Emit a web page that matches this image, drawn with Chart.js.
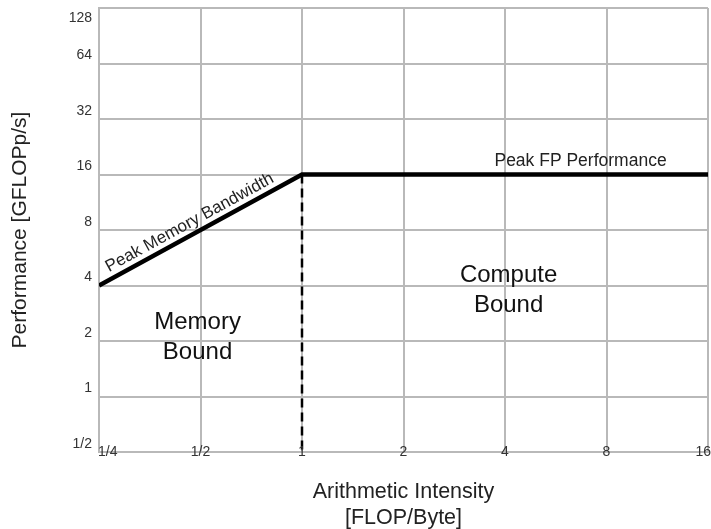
<!DOCTYPE html>
<html lang="en">
<head>
    <meta charset="UTF-8">
    <title>Roofline</title>
    <script src="https://cdn.jsdelivr.net/npm/chart.js"></script>
    <style>
body { margin: 0; background: #fff; }
#box { width: 711px; height: 529px; }
    </style>
</head>
<body>
    <div id="box"><canvas id="roof"></canvas></div>
    <script>
// axis ticks (log2)
const xTickValues = [0.25, 0.5, 1, 2, 4, 8, 16];
const xTickLabels = ['1/4', '1/2', '1', '2', '4', '8', '16'];
const yTickValues = [0.5, 1, 2, 4, 8, 16, 32, 64, 128];
const yTickLabels = ['1/2', '1', '2', '4', '8', '16', '32', '64', '128'];

// the roof: memory slope then flat compute ceiling
const roofX = [0.25, 1, 16];
const roofY = [4, 16, 16];
// ridge point drop line
const ridgeX = [1, 1];
const ridgeY = [16, 0.5];

// text notes, anchored in data space
const notes = [
    { text: ['Memory', 'Bound'], x: 0.49, y: 2.1, size: 24 },
    { text: ['Compute', 'Bound'], x: 4.1, y: 3.75, size: 24 },
];

const FONT = "'Liberation Sans', Arial, sans-serif";
const GRID = '#b9b9b9';

const pts = (xs, ys) => xs.map((x, i) => ({ x: x, y: ys[i] }));

const labelPlugin = {
    id: 'labels',
    afterDraw(chart) {
        const ctx = chart.ctx;
        const xs = chart.scales.x, ys = chart.scales.y;
        const area = chart.chartArea;
        ctx.save();
        ctx.fillStyle = '#333';
        ctx.font = '14px ' + FONT;

        // y tick labels, sitting a bit above their grid line
        ctx.textAlign = 'right';
        ctx.textBaseline = 'middle';
        yTickValues.forEach((v, i) => {
            let py = ys.getPixelForValue(v) - 8;
            py = Math.max(py, area.top + 10);
            ctx.fillText(yTickLabels[i], area.left - 7, py);
        });

        // x tick labels, drawn right over the axis line
        xTickValues.forEach((v, i) => {
            let px = xs.getPixelForValue(v);
            if (i === 0) { ctx.textAlign = 'left'; px -= 1; }
            else if (i === xTickValues.length - 1) { ctx.textAlign = 'right'; px += 3; }
            else ctx.textAlign = 'center';
            ctx.fillText(xTickLabels[i], px, area.bottom);
        });

        // region notes
        ctx.fillStyle = '#111';
        ctx.textAlign = 'center';
        notes.forEach(n => {
            ctx.font = n.size + 'px ' + FONT;
            const cx = xs.getPixelForValue(n.x);
            const cy = ys.getPixelForValue(n.y);
            const lh = n.size * 1.25;
            n.text.forEach((t, k) => {
                ctx.fillText(t, cx, cy + (k - (n.text.length - 1) / 2) * lh);
            });
        });

        // roof labels
        ctx.fillStyle = '#222';
        ctx.font = '17.5px ' + FONT;
        ctx.textBaseline = 'alphabetic';
        ctx.fillText('Peak FP Performance',
            xs.getPixelForValue(6.7), ys.getPixelForValue(roofY[2]) - 9);

        const x0 = xs.getPixelForValue(roofX[0]), y0 = ys.getPixelForValue(roofY[0]);
        const x1 = xs.getPixelForValue(roofX[1]), y1 = ys.getPixelForValue(roofY[1]);
        const ang = Math.atan2(y1 - y0, x1 - x0);
        ctx.translate((x0 + x1) / 2, (y0 + y1) / 2);
        ctx.rotate(ang);
        ctx.font = '17px ' + FONT;
        ctx.textBaseline = 'bottom';
        ctx.fillText('Peak Memory Bandwidth', -6, -3);
        ctx.restore();
    }
};

new Chart(document.getElementById('roof'), {
    type: 'scatter',
    data: {
        datasets: [
            {
                data: pts(roofX, roofY),
                showLine: true,
                borderColor: '#000',
                borderWidth: 4.5,
                pointRadius: 0,
                tension: 0,
            },
            {
                data: pts(ridgeX, ridgeY),
                showLine: true,
                borderColor: '#000',
                borderWidth: 2.5,
                borderDash: [9, 5],
                pointRadius: 0,
            }
        ]
    },
    options: {
        animation: false,
        responsive: true,
        maintainAspectRatio: false,
        layout: { padding: { left: 0, right: 3, top: 8, bottom: 0 } },
        plugins: { legend: { display: false }, tooltip: { enabled: false } },
        scales: {
            x: {
                type: 'logarithmic',
                min: 0.25,
                max: 16,
                afterBuildTicks: s => { s.ticks = xTickValues.map(v => ({ value: v })); },
                afterFit: s => { s.height = 77; },
                grid: { color: GRID, lineWidth: 2, drawTicks: false },
                border: { color: GRID, width: 2 },
                ticks: { display: false },
                title: {
                    display: true,
                    text: ['Arithmetic Intensity', '[FLOP/Byte]'],
                    color: '#222',
                    font: { family: FONT, size: 21.5, lineHeight: 1.22 },
                    padding: { top: 0, bottom: -2 },
                }
            },
            y: {
                type: 'logarithmic',
                min: 0.5,
                max: 128,
                afterBuildTicks: s => { s.ticks = yTickValues.map(v => ({ value: v })); },
                afterFit: s => { s.width = 99; },
                grid: { color: GRID, lineWidth: 2, drawTicks: false },
                border: { color: GRID, width: 2 },
                ticks: { display: false },
                title: {
                    display: true,
                    text: 'Performance [GFLOPp/s]',
                    color: '#222',
                    font: { family: FONT, size: 21, lineHeight: 1.2 },
                    padding: { top: 8, bottom: 0 },
                }
            }
        }
    },
    plugins: [labelPlugin]
});
    </script>
</body>
</html>
